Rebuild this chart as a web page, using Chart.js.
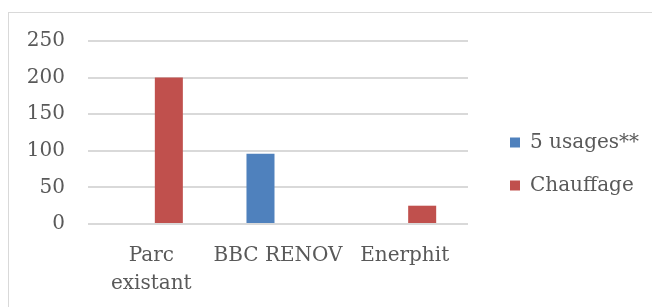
<!DOCTYPE html>
<html lang="fr">
<head>
    <meta charset="UTF-8">
    <title>Consommation</title>
    <script src="https://cdn.jsdelivr.net/npm/chart.js"></script>
    <style>
        body {
            margin: 0;
            padding: 0;
            background-color: #ffffff;
        }
        .frame {
            position: absolute;
            left: 8px;
            top: 12px;
            width: 660px;
            height: 320px;
            border-left: 1px solid #d9d9d9;
            border-top: 1px solid #d9d9d9;
        }
        .chart-box {
            position: absolute;
            left: 0;
            top: 0;
            width: 652px;
            height: 307px;
        }
    </style>
</head>
<body>
    <div class="frame"></div>
    <div class="chart-box">
        <canvas id="chart"></canvas>
    </div>

    <script>
        const categories = [['Parc', 'existant'], 'BBC RENOV', 'Enerphit'];
        const usages5 = [null, 96, null];
        const chauffage = [200, null, 25];
        const yTicks = [0, 50, 100, 150, 200, 250];

        Chart.defaults.font.family = "'DejaVu Serif', serif";
        Chart.defaults.font.size = 20;
        Chart.defaults.color = '#595959';

        // place the legend like the Excel one
        const legendFix = {
            id: 'legendFix',
            beforeLayout(chart) {
                const lg = chart.legend;
                if (lg && !lg._patched) {
                    const fit = lg.fit;
                    lg.fit = function() {
                        fit.call(this);
                        this.width = 184;
                    };
                    lg._patched = true;
                }
            },
            afterLayout(chart) {
                const lg = chart.legend;
                lg.left = 510 - 23;
                lg.top = 31;
                lg.bottom = 297;
            }
        };

        new Chart(document.getElementById('chart'), {
            type: 'bar',
            data: {
                labels: categories,
                datasets: [
                    {
                        label: '5 usages**',
                        data: usages5,
                        backgroundColor: '#4f81bd'
                    },
                    {
                        label: 'Chauffage',
                        data: chauffage,
                        backgroundColor: '#c0504d'
                    }
                ]
            },
            options: {
                responsive: true,
                maintainAspectRatio: false,
                animation: false,
                categoryPercentage: 0.553,
                barPercentage: 0.8,
                layout: {
                    padding: { top: 41, left: 0, right: 0, bottom: 0 }
                },
                plugins: {
                    legend: {
                        position: 'right',
                        labels: {
                            boxWidth: 10,
                            boxHeight: 10,
                            padding: 23,
                            color: '#595959'
                        }
                    },
                    tooltip: { enabled: false }
                },
                scales: {
                    x: {
                        grid: { display: false },
                        border: { display: false },
                        ticks: {
                            padding: 10,
                            maxRotation: 0,
                            autoSkip: false,
                            font: { lineHeight: 1.4 }
                        },
                        afterFit(scale) {
                            scale.height = 83;
                        }
                    },
                    y: {
                        min: 0,
                        max: 250,
                        border: { display: false },
                        grid: {
                            color: '#d9d9d9',
                            lineWidth: 2,
                            drawTicks: false
                        },
                        afterBuildTicks(scale) {
                            scale.ticks = yTicks.map(v => ({ value: v }));
                        },
                        ticks: {
                            padding: 23
                        },
                        afterFit(scale) {
                            scale.width = 88;
                        }
                    }
                }
            },
            plugins: [legendFix]
        });
    </script>
</body>
</html>
